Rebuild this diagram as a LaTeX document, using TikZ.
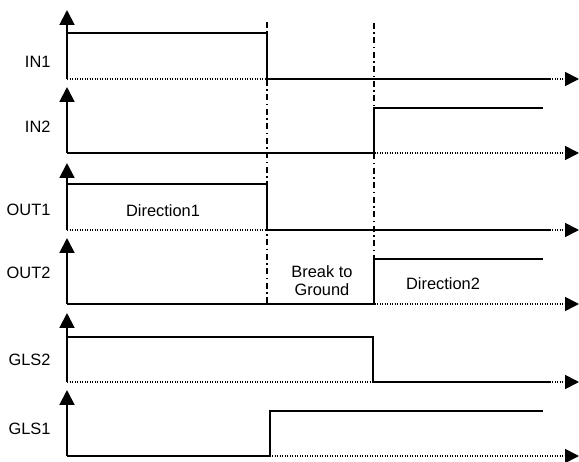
\documentclass[tikz,border=0pt]{standalone}
\usepackage{fontspec}
\setmainfont{Liberation Sans}
\usetikzlibrary{positioning}
\usetikzlibrary{arrows.meta}
\tikzset{
  vaxis/.style   = { line width=1.9pt, -{Triangle[length=15pt,width=15pt]} },
  taxis/.style   = { line width=1.6pt, dash pattern=on 1.1pt off 1.4pt,
                     -{Triangle[length=14pt,width=14pt]} },
  signal/.style  = { line width=1.9pt },
  marker/.style  = { line width=1.6pt, dash pattern=on 6pt off 3.5pt on 1.5pt off 3.5pt },
  chname/.style  = { anchor=east, font=\fontsize{16.4}{18}\selectfont },
  phase/.style   = { align=center, font=\fontsize{16.4}{18}\selectfont },
}

\begin{document}
\begin{tikzpicture}[x=1pt,y=-1pt]
  \useasboundingbox (0,0) rectangle (579,462);

  % channel origins
  \coordinate (in1)  at (67,79);
  \coordinate (in2)  at (67,153);
  \coordinate (out1) at (67,230);
  \coordinate (out2) at (67,304);
  \coordinate (gls2) at (67,382);
  \coordinate (gls1) at (67,456);

  % axes
  \draw [taxis] (in1)  -- (579,79);
  \draw [taxis] (in2)  -- (579,153);
  \draw [taxis] (out1) -- (579,230);
  \draw [taxis] (out2) -- (579,304);
  \draw [taxis] (gls2) -- (579,382);
  \draw [taxis] (gls1) -- (579,456);

  \draw [vaxis] (in1)  -- (67,10);
  \draw [vaxis] (in2)  -- (67,87);
  \draw [vaxis] (out1) -- (67,163);
  \draw [vaxis] (out2) -- (67,238);
  \draw [vaxis] (gls2) -- (67,313);
  \draw [vaxis] (gls1) -- (67,390);

  % phase markers
  \draw [marker] (267,22) -- (267,307);
  \draw [marker] (374,23) -- (374,307);

  % signals
  \draw [signal] (67,33)  -- (267,33)  -- (267,79)  -- (550,79);
  \draw [signal] (in2)    -- (374,153) -- (374,108) -- (543,108);
  \draw [signal] (67,184) -- (267,184) -- (267,230) -- (550,230);
  \draw [signal] (out2)   -- (374,304) -- (374,259) -- (543,259);
  \draw [signal] (67,337) -- (373,337) -- (373,382) -- (550,382);
  \draw [signal] (gls1)   -- (270,456) -- (270,411) -- (543,411);

  % names
  \node (lin1)  [chname] at (54,62)  {IN1};
  \node (lin2)  [chname] at (54,127) {IN2};
  \node (lout1) [chname] at (54,210) {OUT1};
  \node (lout2) [chname] at (54,273) {OUT2};
  \node (lgls2) [chname] at (54,360) {GLS2};
  \node (lgls1) [chname] at (54,429) {GLS1};

  \node (dir1)  [phase] at (163,211) {Direction1};
  \node (brk)   [phase] at (322,281) {Break to\\Ground};
  \node (dir2)  [phase] at (443,284) {Direction2};

\end{tikzpicture}
\end{document}
